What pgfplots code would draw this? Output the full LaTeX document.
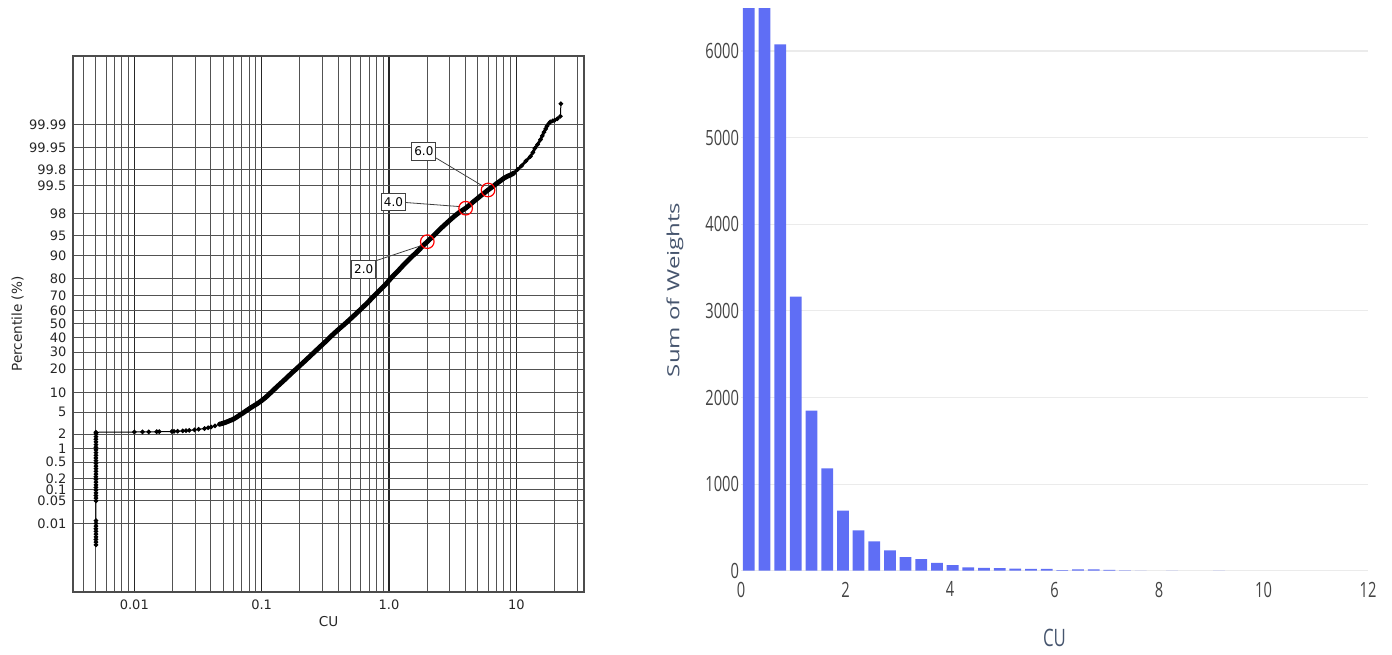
\documentclass[border=0pt]{standalone}
\usepackage{pgfplots}
\pgfplotsset{compat=1.18}
\usepackage{pgfplotstable}
\usepackage{graphicx}
\usepackage{fontspec}
\setmainfont{DejaVu Sans}
\newfontfamily\osans{Open Sans}
\definecolor{pblue}{RGB}{95,110,245}
\definecolor{ptitle}{RGB}{70,85,110}
\definecolor{ptick}{RGB}{68,68,68}
\newcommand{\sx}[1]{\scalebox{0.7}[1]{#1}}

% probability plot: x = CU, z = standard normal quantile of the percentile
\pgfplotstableread{
x z
0.005 -4.12
0.005 -4.07
0.005 -4.02
0.005 -3.97
0.005 -3.92
0.005 -3.87
0.005 -3.82
0.005 -3.77
0.005 -3.72
0.005 -3.67
0.005 -3.30
0.005 -3.25
0.005 -3.20
0.005 -3.15
0.005 -3.10
0.005 -3.05
0.005 -3.00
0.005 -2.95
0.005 -2.90
0.005 -2.85
0.005 -2.80
0.005 -2.75
0.005 -2.70
0.005 -2.65
0.005 -2.60
0.005 -2.55
0.005 -2.50
0.005 -2.45
0.005 -2.40
0.005 -2.35
0.005 -2.30
0.005 -2.25
0.005 -2.20
0.005 -2.15
0.005 -2.10
0.005 -2.05
0.005 -2.02
0.0100 -2.015
0.0116 -2.013
0.0130 -2.012
0.0150 -2.010
0.0157 -2.010
0.0197 -2.005
0.0205 -2.003
0.0219 -2.000
0.0240 -1.995
0.0255 -1.990
0.0270 -1.985
0.0297 -1.975
0.0320 -1.965
0.0356 -1.950
0.0380 -1.935
0.0401 -1.920
0.0430 -1.900
0.0467 -1.870
0.0500 -1.850
0.0528 -1.830
0.0560 -1.805
0.0595 -1.780
0.0630 -1.745
0.0672 -1.700
0.0710 -1.665
0.0750 -1.625
0.0800 -1.580
0.0850 -1.540
0.0920 -1.490
0.1000 -1.430
0.1080 -1.365
0.1156 -1.300
0.1230 -1.240
0.1300 -1.185
0.1400 -1.115
0.1500 -1.050
0.1620 -0.975
0.1750 -0.900
0.1870 -0.840
0.2000 -0.775
0.2200 -0.685
0.2400 -0.600
0.2620 -0.515
0.2860 -0.430
0.3140 -0.340
0.3430 -0.250
0.3750 -0.165
0.4110 -0.080
0.4450 -0.010
0.4800 0.060
0.5250 0.145
0.5730 0.230
0.6250 0.315
0.6800 0.400
0.7400 0.490
0.8000 0.570
0.8700 0.660
0.9500 0.750
1.0200 0.835
1.1000 0.920
1.2000 1.010
1.3000 1.100
1.4000 1.175
1.5000 1.250
1.6200 1.320
1.7500 1.400
1.8700 1.470
2.0000 1.536
2.2000 1.630
2.4000 1.720
2.6000 1.800
2.8000 1.870
3.0500 1.950
3.3000 2.020
3.6000 2.090
4.0000 2.160
4.3000 2.220
4.6000 2.280
5.0000 2.350
5.3000 2.400
5.6500 2.450
6.0000 2.500
6.5000 2.560
7.0000 2.620
7.5000 2.670
8.0000 2.720
8.5000 2.755
9.0000 2.780
9.5500 2.815
10.200 2.880
11.000 2.950
11.900 3.040
12.900 3.126
13.500 3.200
14.000 3.280
14.700 3.350
15.500 3.440
16.000 3.510
16.500 3.580
17.000 3.640
17.400 3.690
18.000 3.740
18.500 3.770
19.300 3.790
20.000 3.800
21.000 3.830
22.200 3.875
22.400 4.110
}\curveA

\pgfplotstableread{
x z
0.0467 -1.870
0.0500 -1.850
0.0528 -1.830
0.0560 -1.805
0.0595 -1.780
0.0630 -1.745
0.0672 -1.700
0.0710 -1.665
0.0750 -1.625
0.0800 -1.580
0.0850 -1.540
0.0920 -1.490
0.1000 -1.430
0.1080 -1.365
0.1156 -1.300
0.1230 -1.240
0.1300 -1.185
0.1400 -1.115
0.1500 -1.050
0.1620 -0.975
0.1750 -0.900
0.1870 -0.840
0.2000 -0.775
0.2200 -0.685
0.2400 -0.600
0.2620 -0.515
0.2860 -0.430
0.3140 -0.340
0.3430 -0.250
0.3750 -0.165
0.4110 -0.080
0.4450 -0.010
0.4800 0.060
0.5250 0.145
0.5730 0.230
0.6250 0.315
0.6800 0.400
0.7400 0.490
0.8000 0.570
0.8700 0.660
0.9500 0.750
1.0200 0.835
1.1000 0.920
1.2000 1.010
1.3000 1.100
1.4000 1.175
1.5000 1.250
1.6200 1.320
1.7500 1.400
1.8700 1.470
2.0000 1.536
2.2000 1.630
2.4000 1.720
2.6000 1.800
2.8000 1.870
3.0500 1.950
3.3000 2.020
3.6000 2.090
4.0000 2.160
4.3000 2.220
4.6000 2.280
5.0000 2.350
5.3000 2.400
5.6500 2.450
6.0000 2.500
6.5000 2.560
7.0000 2.620
7.5000 2.670
8.0000 2.720
8.5000 2.755
9.0000 2.780
9.5500 2.815
}\curveB

\pgfplotstableread{
x z
9.5500 2.815
10.200 2.880
11.000 2.950
11.900 3.040
12.900 3.126
13.500 3.200
14.000 3.280
14.700 3.350
15.500 3.440
16.000 3.510
16.500 3.580
17.000 3.640
17.400 3.690
}\curveC

\pgfplotstableread{
x z
2.0 1.536
4.0 2.160
6.0 2.500
}\circles

% histogram: bin centre, sum of weights
\pgfplotstableread{
x w
0.15 11500
0.45 9800
0.75 6078
1.05 3164
1.35 1848
1.65 1182
1.95 693
2.25 466
2.55 339
2.85 235
3.15 156
3.45 133
3.75 91
4.05 64
4.35 38
4.65 34
4.95 30
5.25 24
5.55 20
5.85 20
6.15 8
6.45 15
6.75 14
7.05 10
7.35 3
7.65 2
8.25 2
9.15 1
}\hist

\begin{document}
\begin{tikzpicture}
\path[use as bounding box] (0,0) rectangle (696pt,327pt);

\begin{axis}[
  at={(36.5pt,31pt)}, anchor=south west, scale only axis,
  width=255.5pt, height=268pt,
  xmode=log, xmin=0.0033, xmax=34, ymin=-5, ymax=5,
  xtick={0.01,0.1,1,10}, xticklabels={0.01,0.1,1.0,10},
  minor xtick={0.004,0.005,0.006,0.007,0.008,0.009,
               0.02,0.03,0.04,0.05,0.06,0.07,0.08,0.09,
               0.2,0.3,0.4,0.5,0.6,0.7,0.8,0.9,
               2,3,4,5,6,7,8,9,20,30},
  ytick={-3.7190,-3.2905,-3.0902,-2.8782,-2.5758,-2.3263,-2.0537,-1.6449,
         -1.2816,-0.8416,-0.5244,-0.2533,0,0.2533,0.5244,0.8416,1.2816,
         1.6449,2.0537,2.5758,2.8782,3.2905,3.7190},
  yticklabels={0.01,0.05,0.1,0.2,0.5,1,2,5,10,20,30,40,50,60,70,80,90,95,98,99.5,99.8,99.95,99.99},
  major tick length=0pt, minor tick length=0pt,
  xmajorgrids, xminorgrids, ymajorgrids,
  major x grid style={black!85, line width=0.7pt},
  minor x grid style={black!68, line width=0.5pt},
  major y grid style={black!68, line width=0.5pt},
  axis line style={black!70, line width=0.6pt},
  tick label style={font=\fontsize{6.5}{7}\selectfont, text=black!85},
  xticklabel style={inner sep=0pt, anchor=north, yshift=-3.7pt},
  yticklabel style={inner sep=0pt, anchor=east, xshift=-3.1pt},
  xlabel={CU}, ylabel={Percentile (\%)},
  label style={font=\fontsize{6.8}{8}\selectfont, text=black!85},
  xlabel style={at={(axis description cs:0.5,-0.0556)}, anchor=center, inner sep=0pt},
  ylabel style={at={(axis description cs:-0.1086,0.5)}, anchor=center, inner sep=0pt},
]
\addplot[black, line width=0.5pt, mark=*, mark size=0.9pt] table[x=x, y=z] {\curveA};
\addplot[black, line width=2.4pt, no marks, line join=round, line cap=round] table[x=x, y=z] {\curveB};
\addplot[black, line width=1.4pt, no marks, line join=round, line cap=round] table[x=x, y=z] {\curveC};
\addplot[only marks, mark=o, red, mark size=3.4pt, line width=0.6pt] table[x=x, y=z] {\circles};
\draw[black!75, line width=0.4pt] (axis cs:0.79,1.181) -- (axis cs:1.862,1.475);
\draw[black!75, line width=0.4pt] (axis cs:1.36,2.266) -- (axis cs:3.62,2.19);
\draw[black!75, line width=0.4pt] (axis cs:2.345,3.096) -- (axis cs:5.53,2.565);
\tikzset{ann/.style={draw=black!75, line width=0.4pt, fill=white, inner sep=0pt,
  minimum width=12pt, minimum height=8.6pt, font=\fontsize{6}{7}\selectfont}}
\node[ann] at (axis cs:0.633,1.02) {2.0};
\node[ann] at (axis cs:1.085,2.273) {4.0};
\node[ann] at (axis cs:1.88,3.22) {6.0};
\end{axis}

\begin{axis}[
  at={(370.5pt,41.65pt)}, anchor=south west, scale only axis,
  width=313.5pt, height=280.85pt,
  xmin=0, xmax=12, ymin=0, ymax=6486,
  ybar, bar width=0.225,
  axis line style={draw=none}, major tick length=0pt,
  ymajorgrids, major y grid style={black!8, line width=0.6pt},
  xtick={0,2,4,6,8,10,12},
  xticklabels={\sx{0},\sx{2},\sx{4},\sx{6},\sx{8},\sx{10},\sx{12}},
  ytick={0,1000,2000,3000,4000,5000,6000},
  yticklabels={\sx{0},\sx{1000},\sx{2000},\sx{3000},\sx{4000},\sx{5000},\sx{6000}},
  tick label style={font=\osans\fontsize{10.5}{12}\selectfont, text=ptick},
  xticklabel style={anchor=north, inner sep=0pt, yshift=-5.4pt},
  yticklabel style={anchor=east, inner sep=0pt, xshift=-0.8pt},
  xlabel={\sx{CU}}, ylabel={\scalebox{1}[0.7]{Sum of Weights}},
  label style={font=\osans\fontsize{12}{14}\selectfont, text=ptitle},
  xlabel style={at={(axis description cs:0.5,-0.12)}, anchor=center, inner sep=0pt},
  ylabel style={at={(axis description cs:-0.1053,0.5)}, anchor=center, inner sep=0pt},
]
\addplot[fill=pblue, draw=none] table[x=x, y=w] {\hist};
\end{axis}
\end{tikzpicture}
\end{document}
